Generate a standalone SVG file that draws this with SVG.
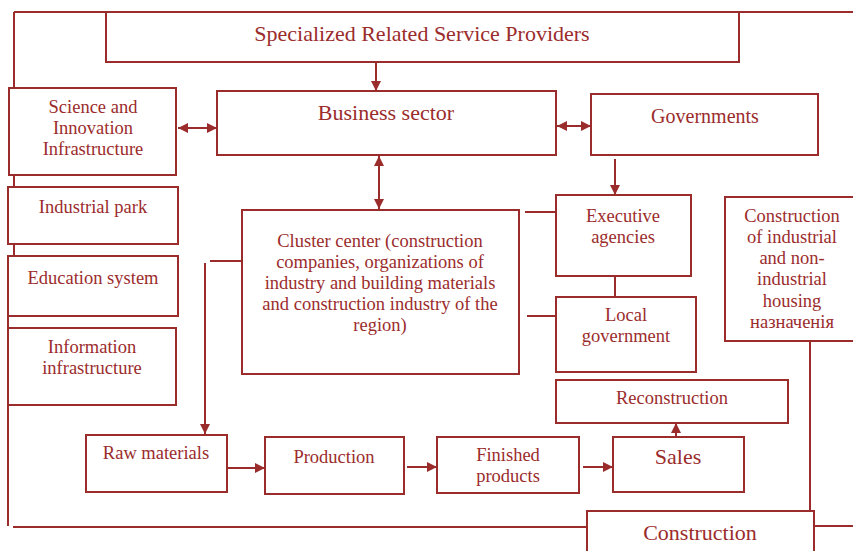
<svg xmlns="http://www.w3.org/2000/svg" width="853" height="551" viewBox="0 0 853 551">
<style>
.b{fill:#fff;stroke:#9b2c2c;stroke-width:2}
.l{fill:none;stroke:#9b2c2c;stroke-width:2}
text{font-family:"Liberation Serif","Times New Roman",serif;fill:#9b2c2c;text-anchor:middle;font-size:18.5px}
.big{font-size:22px}
.mid{font-size:20px}
</style>
<defs>
<marker id="ah" viewBox="0 0 10 10" refX="10" refY="5" markerWidth="5" markerHeight="5" orient="auto-start-reverse" markerUnits="strokeWidth">
<path d="M0,0L10,5L0,10z" fill="#9b2c2c"/>
</marker>
</defs>
<rect width="853" height="551" fill="#fff"/>
<g id="connectors">
<path class="l" d="M14,12H853M14,12V88M14,175V186M14,244V255M8,316V328M8,405V526M13,527H587M814,526H853"/>
<path class="l" d="M376,62V91" marker-end="url(#ah)"/>
<path class="l" d="M178,128H217" marker-start="url(#ah)" marker-end="url(#ah)"/>
<path class="l" d="M557,126H591" marker-start="url(#ah)" marker-end="url(#ah)"/>
<path class="l" d="M379,156V209" marker-start="url(#ah)" marker-end="url(#ah)"/>
<path class="l" d="M615,159V195" marker-end="url(#ah)"/>
<path class="l" d="M210,261H241M525,212H556M615,276V297M527,316H556M810,341V511"/>
<path class="l" d="M205,263V434" marker-end="url(#ah)"/>
<path class="l" d="M227,468H265" marker-end="url(#ah)"/>
<path class="l" d="M407,467H437" marker-end="url(#ah)"/>
<path class="l" d="M583,467H613" marker-end="url(#ah)"/>
<path class="l" d="M676,436V423" marker-end="url(#ah)"/>
</g>
<g id="specialized"><rect class="b" x="106" y="12" width="633" height="50"/><text class="big" x="422" y="41">Specialized Related Service Providers</text></g>
<g id="science"><rect class="b" x="9" y="88" width="167" height="87"/><text x="93" y="113">Science and</text><text x="93" y="134">Innovation</text><text x="93" y="155">Infrastructure</text></g>
<g id="business"><rect class="b" x="217" y="91" width="339" height="64"/><text class="big" x="386" y="120">Business sector</text></g>
<g id="governments"><rect class="b" x="591" y="94" width="227" height="61"/><text class="mid" x="705" y="123">Governments</text></g>
<g id="industrial-park"><rect class="b" x="8" y="187" width="170" height="57"/><text x="93" y="213">Industrial park</text></g>
<g id="education"><rect class="b" x="8" y="256" width="170" height="60"/><text x="93" y="284">Education system</text></g>
<g id="information"><rect class="b" x="8" y="328" width="168" height="77"/><text x="92" y="353">Information</text><text x="92" y="374">infrastructure</text></g>
<g id="cluster"><rect class="b" x="242" y="210" width="277" height="164"/>
<text x="380" y="247">Cluster center (construction</text>
<text x="380" y="268">companies, organizations of</text>
<text x="380" y="289">industry and building materials</text>
<text x="380" y="310">and construction industry of the</text>
<text x="380" y="331">region)</text></g>
<g id="executive"><rect class="b" x="556" y="195" width="135" height="81"/><text x="623" y="222">Executive</text><text x="623" y="243">agencies</text></g>
<g id="local"><rect class="b" x="556" y="297" width="140" height="75"/><text x="626" y="321">Local</text><text x="626" y="342">government</text></g>
<g id="construction-housing"><rect class="b" x="725" y="197" width="140" height="144"/>
<text x="792" y="222">Construction</text><text x="792" y="243">of industrial</text><text x="792" y="264">and non-</text><text x="792" y="285">industrial</text><text x="792" y="307">housing</text><text x="792" y="328">назначенія</text></g>
<g id="reconstruction"><rect class="b" x="556" y="380" width="232" height="43"/><text x="672" y="404">Reconstruction</text></g>
<g id="raw"><rect class="b" x="86" y="435" width="141" height="57"/><text x="156" y="459">Raw materials</text></g>
<g id="production"><rect class="b" x="265" y="437" width="139" height="57"/><text x="334" y="463">Production</text></g>
<g id="finished"><rect class="b" x="437" y="437" width="142" height="56"/><text x="508" y="461">Finished</text><text x="508" y="482">products</text></g>
<g id="sales"><rect class="b" x="613" y="437" width="131" height="55"/><text class="big" x="678" y="464">Sales</text></g>
<g id="construction"><rect class="b" x="587" y="511" width="227" height="50"/><text class="big" x="700" y="540">Construction</text></g>
</svg>
